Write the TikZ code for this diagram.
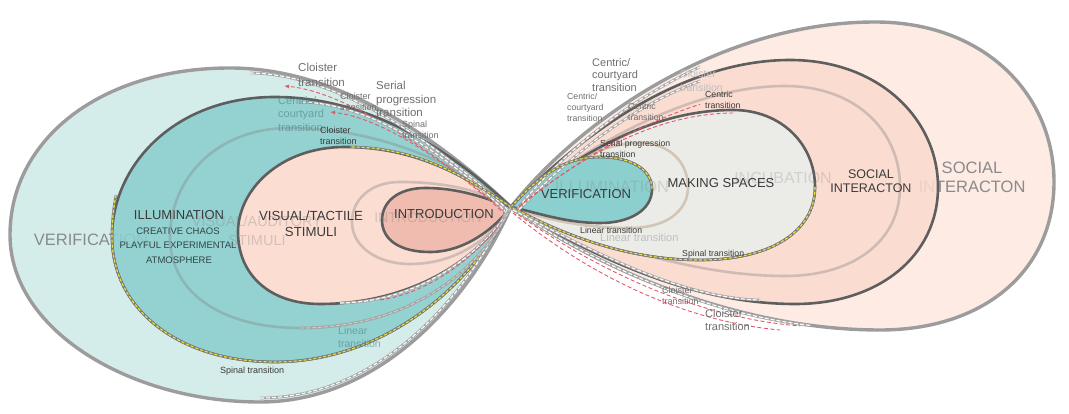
\documentclass[tikz,border=0pt]{standalone}
\usepackage{fontspec}
\setmainfont{Liberation Sans}
\usetikzlibrary{arrows.meta}

\definecolor{paleteal}{HTML}{D5EDEA}
\definecolor{midteal}{HTML}{8CCFCF}
\definecolor{stimpink}{HTML}{FBDDD2}
\definecolor{intropink}{HTML}{F0BCAF}
\definecolor{palepink}{HTML}{FDEBE4}
\definecolor{socpink}{HTML}{FADBCF}
\definecolor{spacegray}{HTML}{EBEBE8}
\definecolor{rimgray}{HTML}{9C9C9C}
\definecolor{edgegray}{HTML}{5E5E5E}
\definecolor{labgray}{HTML}{8A8A8A}
\definecolor{labdark}{HTML}{3A3A3A}
\definecolor{transgray}{HTML}{6E6E6E}
\definecolor{transred}{HTML}{E05A66}
\definecolor{transyellow}{HTML}{ECE33A}

\newcommand{\fsz}[2]{\fontsize{#1}{#2}\selectfont}

\tikzset{
  rim/.style={draw=rimgray, line width=3.4pt, line join=round},
  loopedge/.style={draw=edgegray, line width=2.6pt, line join=round},
  loopring/.style={draw=gray, draw opacity=0.35, line width=2.6pt},
  stagelab/.style={text=labdark, align=center, inner sep=0pt},
  biglab/.style={text=labgray, align=center, inner sep=0pt},
  ghostlab/.style={text=gray, text opacity=0.3, align=center, inner sep=0pt},
  translab/.style={text=transgray, align=left, anchor=west, inner sep=0pt},
  whitetrans/.style={draw=white, line width=1.1pt, dash pattern=on 4pt off 2pt,
    preaction={draw=gray!70, line width=2.6pt, solid}},
  redtrans/.style={draw=transred, line width=0.9pt, dash pattern=on 4pt off 2.5pt},
  yellowtrans/.style={draw=transyellow, line width=1.1pt, dash pattern=on 3pt off 2pt,
    preaction={draw=edgegray!80, line width=2.4pt, solid}},
}

\begin{document}
\begin{tikzpicture}[x=1pt,y=-1pt]
\useasboundingbox (0,0) rectangle (1069,414);
\coordinate (C) at (511,207);

% left loop
\draw[rim, fill=paleteal] (C) .. controls (440,140) and (340,68) .. (230,68) .. controls (100,68) and (10,140) .. (10,235) .. controls (10,330) and (130,402) .. (260,402) .. controls (380,402) and (470,300) .. (C);
\node[biglab, font=\fsz{16.5}{19}] (verifbig) at (91,240) {VERIFICATION};

\draw[loopedge, fill=midteal, fill opacity=0.88] (C) .. controls (450,150) and (370,97) .. (275,97) .. controls (175,97) and (112,165) .. (112,237) .. controls (112,310) and (180,362) .. (275,362) .. controls (380,362) and (470,290) .. (C);
\node[stagelab, font=\fsz{13}{15}] (illum) at (179,215) {ILLUMINATION};
\node[stagelab, text=labdark!85!teal, font=\fsz{9.5}{12}] (chaos) at (178,231) {CREATIVE CHAOS};
\node[stagelab, text=labdark!85!teal, font=\fsz{9.5}{12}] (playful) at (178,245) {PLAYFUL EXPERIMENTAL};
\node[stagelab, text=labdark!85!teal, font=\fsz{9.5}{12}] (atmos) at (179,260) {ATMOSPHERE};

\draw[loopring] (C) .. controls (460,165) and (380,128) .. (290,128) .. controls (215,128) and (170,180) .. (170,237) .. controls (170,295) and (225,328) .. (300,328) .. controls (400,328) and (475,280) .. (C);

\draw[loopedge, fill=stimpink] (C) .. controls (470,180) and (420,147) .. (345,147) .. controls (280,147) and (238,190) .. (238,232) .. controls (238,275) and (270,304) .. (320,304) .. controls (410,304) and (480,260) .. (C);

\draw[loopring] (C) .. controls (480,190) and (445,182) .. (400,182) .. controls (370,182) and (352,200) .. (352,222) .. controls (352,247) and (378,264) .. (410,264) .. controls (455,264) and (490,240) .. (C);

\draw[loopedge, fill=intropink] (C) .. controls (485,198) and (460,188) .. (425,188) .. controls (398,188) and (382,202) .. (382,220) .. controls (382,240) and (400,252) .. (430,252) .. controls (465,252) and (495,228) .. (C);

% right loop
\draw[rim, fill=palepink] (C) .. controls (580,120) and (720,22) .. (875,22) .. controls (985,22) and (1054,95) .. (1054,182) .. controls (1054,270) and (985,330) .. (880,330) .. controls (740,330) and (600,270) .. (C);
\node[biglab, font=\fsz{16.5}{19}] (socialbig) at (972,177) {SOCIAL\\INTERACTON};

\draw[loopedge, fill=socpink, fill opacity=0.88] (C) .. controls (590,125) and (690,60) .. (790,60) .. controls (880,60) and (938,120) .. (938,187) .. controls (938,255) and (880,304) .. (795,304) .. controls (690,304) and (590,255) .. (C);

\draw[loopring] (C) .. controls (600,135) and (700,86) .. (785,86) .. controls (855,86) and (900,130) .. (900,187) .. controls (900,240) and (855,276) .. (785,276) .. controls (690,276) and (590,240) .. (C);

\draw[loopedge, fill=spacegray] (C) .. controls (590,145) and (660,110) .. (733,110) .. controls (782,110) and (815,145) .. (815,187) .. controls (815,232) and (770,260) .. (700,260) .. controls (620,260) and (555,230) .. (C);

\draw[loopring, draw=brown!60!gray] (C) .. controls (565,165) and (600,143) .. (640,143) .. controls (670,143) and (688,163) .. (688,187) .. controls (688,212) and (665,228) .. (630,228) .. controls (580,228) and (540,218) .. (C);

\draw[loopedge, fill=midteal] (C) .. controls (540,175) and (565,157) .. (600,157) .. controls (632,157) and (652,170) .. (652,189) .. controls (652,210) and (630,223) .. (600,223) .. controls (565,223) and (535,212) .. (C);

% faded stage names
\node[ghostlab, font=\fsz{14.5}{19}] (audit) at (257,231) {VISUAL/AUDITORY\\STIMULI};
\node[ghostlab, font=\fsz{14}{16}] (introghost) at (428,218) {INTRODUCTION};
\node[ghostlab, text opacity=0.25, font=\fsz{16}{18}] (incub) at (783,178) {INCUBATION};
\node[ghostlab, text opacity=0.25, font=\fsz{16.5}{18}] (illumghost) at (612,187) {ILLUMINATION};

% stage names
\node[stagelab, font=\fsz{13.2}{16}] (tactile) at (311,224) {VISUAL/TACTILE\\STIMULI};
\node[stagelab, font=\fsz{13}{15}] (intro) at (444,214) {INTRODUCTION};
\node[stagelab, font=\fsz{12.5}{14}] (social) at (871,181) {SOCIAL\\INTERACTON};
\node[stagelab, font=\fsz{13}{15}] (making) at (721,183) {MAKING SPACES};
\node[stagelab, font=\fsz{13}{15}] (verif) at (586,194) {VERIFICATION};

% transitions, left
\draw[whitetrans] (508,210) .. controls (440,146) and (340,74) .. (250,73);
\draw[redtrans, -{Latex[length=5pt,width=4pt]}] (505,212) .. controls (445,160) and (350,92) .. (284,86);
\draw[whitetrans] (507,213) .. controls (452,158) and (372,103) .. (300,102);
\draw[redtrans, -{Latex[length=5pt,width=4pt]}] (506,215) .. controls (455,168) and (385,118) .. (330,112);
\draw[yellowtrans] (116,195) .. controls (113,210) and (112,222) .. (112,237) .. controls (112,310) and (180,362) .. (275,362) .. controls (380,362) and (470,290) .. (C);
\draw[whitetrans] (260,398) .. controls (378,398) and (466,298) .. (507,210);
\draw[yellowtrans] (C) .. controls (470,180) and (420,147) .. (350,147);
\draw[whitetrans] (340,303) .. controls (415,302) and (480,258) .. (C);
\draw[redtrans] (380,300) .. controls (430,293) and (480,255) .. (509,212);
\draw[whitetrans, opacity=0.5, line width=0.8pt] (300,328) .. controls (400,328) and (475,280) .. (C);

% transitions, right
\begin{scope}
\clip (500,0) rectangle (700,414);
\draw[whitetrans] (515,212) .. controls (583,124) and (722,26) .. (875,26);
\draw[whitetrans] (515,214) .. controls (593,129) and (692,64) .. (790,64);
\draw[redtrans] (514,211) .. controls (600,140) and (700,90) .. (785,90);
\end{scope}
\draw[redtrans] (514,210) .. controls (592,148) and (662,113) .. (735,113);
\draw[yellowtrans] (C) .. controls (540,175) and (565,157) .. (600,157) .. controls (632,157) and (652,170) .. (652,189);
\draw[yellowtrans] (815,187) .. controls (815,232) and (770,260) .. (700,260) .. controls (620,260) and (555,230) .. (C);
\begin{scope}
\clip (500,0) rectangle (810,414);
\draw[whitetrans] (513,209) .. controls (600,268) and (730,326) .. (850,328);
\draw[redtrans] (513,211) .. controls (600,273) and (700,318) .. (800,326);
\draw[redtrans] (513,213) .. controls (595,280) and (690,322) .. (780,330);
\draw[whitetrans] (513,210) .. controls (590,250) and (680,298) .. (760,300);
\end{scope}

% transition labels
\node[translab, font=\fsz{11.5}{15}] (cloisterA) at (298,75) {Cloister\\transition};
\node[translab, font=\fsz{9}{11}] (cloisterB) at (340,102) {Cloister\\transition};
\node[translab, font=\fsz{11.5}{13.5}] (serialA) at (376,99) {Serial\\progression\\transition};
\node[translab, font=\fsz{9}{11}] (spinalA) at (402,130) {Spinal\\transition};
\node[translab, text=teal!40!gray, text opacity=0.6, font=\fsz{11}{13.5}] (centricA) at (278,114) {Centric/\\courtyard\\transition};
\node[translab, text=labdark, font=\fsz{9}{11}] (cloisterC) at (320,136) {Cloister\\transition};
\node[translab, text=teal!40!gray, text opacity=0.6, font=\fsz{10.5}{13}] (linearA) at (338,337) {Linear\\transition};
\node[translab, text=labdark, font=\fsz{9}{11}] (spinalB) at (220,371) {Spinal transition};
\node[translab, font=\fsz{11}{12.5}] (centricB) at (592,75) {Centric/\\courtyard\\transition};
\node[translab, font=\fsz{8.7}{11}] (centricC) at (567,107) {Centric/\\courtyard\\transition};
\node[translab, font=\fsz{8.7}{11}] (centricD) at (628,112) {Centric\\transition};
\node[translab, text=labdark, font=\fsz{8.7}{11}] (centricE) at (705,100) {Centric\\transition};
\node[translab, text=gray!50, font=\fsz{10.5}{14}] (cloisterD) at (680,81) {Cloister\\transition};
\node[translab, text=labdark, font=\fsz{8.7}{11}] (serialB) at (600,149) {Serial progression\\transition};
\node[translab, text=labdark, font=\fsz{8.7}{11}] (linearB) at (580,230) {Linear transition};
\node[translab, text=gray!50, font=\fsz{11}{13}] (linearC) at (600,238) {Linear transition};
\node[translab, text=labdark, font=\fsz{8.7}{11}] (spinalC) at (682,254) {Spinal transition};
\node[translab, font=\fsz{9}{11}] (cloisterE) at (662,296) {Cloister\\transition};
\node[translab, font=\fsz{11}{13}] (cloisterF) at (705,320) {Cloister\\transition};
\end{tikzpicture}
\end{document}
